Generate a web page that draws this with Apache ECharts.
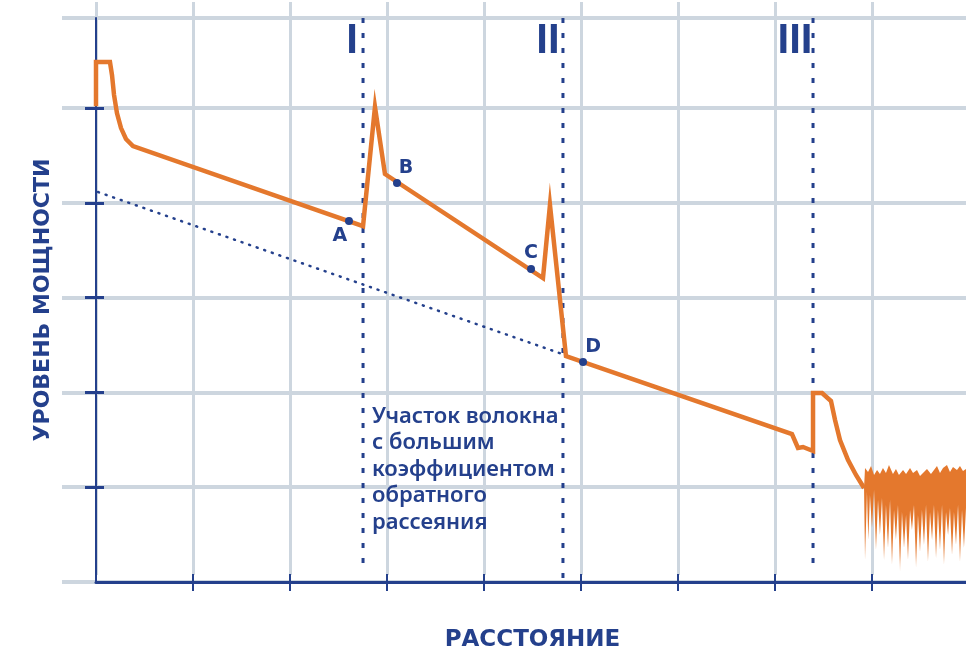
<!DOCTYPE html>
<html><head><meta charset="utf-8">
<script src="https://cdn.jsdelivr.net/npm/echarts@6/dist/echarts.min.js"></script>
<style>html,body{margin:0;padding:0;background:#fff}#c{width:966px;height:650px}</style>
</head><body><div id="c"></div>
<script>
// ---- data (x: distance units, y: power level units) ----
const traceX = [0, 0, 0.144, 0.165, 0.186, 0.216, 0.258, 0.309, 0.381, 2.753, 2.876, 2.979, 4.608, 4.680, 4.845, 7.175, 7.237, 7.289, 7.392, 7.392, 7.485, 7.577, 7.619, 7.670, 7.753, 7.835, 7.918];
const traceY = [5.02, 5.485, 5.485, 5.348, 5.137, 4.947, 4.789, 4.673, 4.599, 3.755, 5.011, 4.304, 3.207, 3.977, 2.384, 1.561, 1.414, 1.424, 1.382, 1.994, 1.994, 1.909, 1.709, 1.498, 1.287, 1.129, 0.992];
const pointNames = ['A', 'B', 'C', 'D'];
const pointX = [2.608, 3.103, 4.485, 5.021];
const pointY = [3.808, 4.209, 3.302, 2.321];
const backscatterX = [0.021, 4.835];
const backscatterY = [4.114, 2.395];
const eventNames = ['I', 'II', 'III'];
const eventX = [2.753, 4.814, 7.392];
const eventTop = 5.95;
const eventBottom = [0.105, 0.04, 0.13];
const eventLabelX = [2.639, 4.660, 7.206];
const eventLabelY = 5.707;
const noteText = ['Участок волокна', 'с большим', 'коэффициентом', 'обратного', 'рассеяния'];
const notePos = [2.845, 1.885];
const noiseTopX = [7.928, 7.959, 7.990, 8.021, 8.052, 8.082, 8.113, 8.144, 8.175, 8.216, 8.247, 8.278, 8.320, 8.351, 8.392, 8.423, 8.464, 8.495, 8.536, 8.567, 8.608, 8.639, 8.670, 8.701, 8.732, 8.773, 8.804, 8.835, 8.876, 8.907, 8.938, 8.969];
const noiseTopY = [1.203, 1.160, 1.224, 1.129, 1.181, 1.139, 1.203, 1.150, 1.234, 1.139, 1.192, 1.129, 1.181, 1.139, 1.203, 1.150, 1.181, 1.118, 1.160, 1.192, 1.139, 1.181, 1.224, 1.150, 1.203, 1.234, 1.160, 1.213, 1.181, 1.224, 1.171, 1.192];
const noiseLowX = [7.918, 7.928, 7.948, 7.962, 7.979, 8.000, 8.021, 8.041, 8.062, 8.082, 8.103, 8.124, 8.144, 8.165, 8.186, 8.206, 8.227, 8.247, 8.268, 8.289, 8.309, 8.330, 8.351, 8.371, 8.392, 8.412, 8.433, 8.454, 8.474, 8.495, 8.515, 8.536, 8.557, 8.577, 8.598, 8.619, 8.639, 8.660, 8.680, 8.701, 8.722, 8.742, 8.763, 8.784, 8.804, 8.825, 8.845, 8.866, 8.887, 8.907, 8.928, 8.948, 8.969];
const noiseLowY = [0.992, 0.232, 0.949, 0.443, 0.918, 0.570, 0.970, 0.338, 0.865, 0.496, 0.886, 0.232, 0.812, 0.359, 0.865, 0.179, 0.759, 0.443, 0.812, 0.105, 0.738, 0.359, 0.707, 0.232, 0.759, 0.549, 0.812, 0.148, 0.707, 0.316, 0.759, 0.390, 0.812, 0.211, 0.738, 0.443, 0.812, 0.253, 0.759, 0.338, 0.812, 0.179, 0.738, 0.496, 0.781, 0.285, 0.738, 0.390, 0.812, 0.211, 0.759, 0.359, 0.781];
const xTicks = [1, 2, 3, 4, 5, 6, 7, 8];
const yTicks = [1, 2, 3, 4, 5];

// ---- styles ----
const BLUE = '#24408c', ORANGE = '#e4782d', GRIDC = '#cdd6df';
const pointLabelOffsets = [[-9, 15], [9, -15], [0, -16], [10, -15]];

const zip = (a, b) => a.map((v, i) => [v, b[i]]);
const trace = zip(traceX, traceY);
const noiseTop = zip(noiseTopX, noiseTopY);
const noiseLow = zip(noiseLowX, noiseLowY);

const series = [];
eventX.forEach((x, i) => {
  series.push({
    type: 'line', xAxisIndex: 0, yAxisIndex: 0, symbol: 'none', silent: true, z: 3,
    data: [[x, eventTop], [x, eventBottom[i]]],
    lineStyle: { color: BLUE, width: 3, type: [5, 10] }
  });
});
series.push({
  type: 'line', xAxisIndex: 0, yAxisIndex: 0, symbol: 'none', z: 3,
  data: zip(backscatterX, backscatterY),
  lineStyle: { color: BLUE, width: 2.5, type: [1, 7], cap: 'round' }
});
series.push({
  type: 'custom', xAxisIndex: 0, yAxisIndex: 0, clip: false, z: 4,
  data: [[8.5, 1]],
  renderItem: function (params, api) {
    const pts = noiseTop.map(p => api.coord(p)).concat(noiseLow.slice().reverse().map(p => api.coord(p)));
    return {
      type: 'polygon', shape: { points: pts },
      style: {
        fill: { type: 'linear', x: 0, y: 0, x2: 0, y2: 1, colorStops: [
          { offset: 0, color: ORANGE }, { offset: 0.62, color: ORANGE },
          { offset: 0.85, color: 'rgba(228,120,45,0.85)' }, { offset: 1, color: 'rgba(228,120,45,0.4)' }] }
      }
    };
  }
});
series.push({
  type: 'line', xAxisIndex: 0, yAxisIndex: 0, symbol: 'none', z: 5,
  data: trace,
  lineStyle: { color: ORANGE, width: 4.5, join: 'miter' }
});
series.push({
  type: 'scatter', xAxisIndex: 0, yAxisIndex: 0, z: 6,
  symbol: 'circle', symbolSize: 8, itemStyle: { color: BLUE, opacity: 1 },
  data: pointNames.map((n, i) => ({
    name: n, value: [pointX[i], pointY[i]],
    label: { show: true, position: 'inside', offset: pointLabelOffsets[i], formatter: n,
      color: BLUE, fontSize: 19, fontWeight: 'bold', fontFamily: 'DejaVu Sans' }
  }))
});
series.push({
  type: 'scatter', xAxisIndex: 0, yAxisIndex: 0, z: 6, symbolSize: 0, silent: true,
  itemStyle: { opacity: 1 },
  data: eventNames.map((n, i) => ({
    name: n, value: [eventLabelX[i], eventLabelY],
    label: { show: true, position: 'inside', formatter: n, color: BLUE, fontSize: 42,
      fontWeight: 'bold', fontFamily: 'Liberation Sans' }
  }))
});
series.push({
  type: 'scatter', xAxisIndex: 0, yAxisIndex: 0, z: 6, symbolSize: 0, silent: true,
  itemStyle: { opacity: 1 },
  data: [{ value: notePos, label: { show: true, position: [0, 0], align: 'left', verticalAlign: 'top',
    formatter: noteText.join('\n'), color: BLUE, fontSize: 22, lineHeight: 26.5, fontWeight: 600,
    fontFamily: 'Noto Sans' } }]
});

const hidden = { axisLine: { show: false }, axisTick: { show: false }, axisLabel: { show: false }, splitLine: { show: false } };

const option = {
  animation: false,
  backgroundColor: '#fff',
  grid: [
    { left: 96, top: 18, width: 873, height: 564, outerBoundsMode: 'none', containLabel: false },
    { left: 62, top: 18, width: 907, height: 564, outerBoundsMode: 'none', containLabel: false },
    { left: 96, top: 2, width: 873, height: 573, outerBoundsMode: 'none', containLabel: false }
  ],
  xAxis: [
    { type: 'value', gridIndex: 0, min: 0, max: 9, interval: 1, position: 'bottom',
      axisLine: { show: true, onZero: false, lineStyle: { color: BLUE, width: 3 } },
      axisTick: { show: true, customValues: xTicks, length: 9, lineStyle: { color: BLUE, width: 2 } },
      axisLabel: { show: false }, splitLine: { show: false },
      name: 'РАССТОЯНИЕ', nameLocation: 'middle', nameGap: 47,
      nameTextStyle: { color: BLUE, fontSize: 23, fontWeight: 'bold', fontFamily: 'DejaVu Sans' } },
    { type: 'value', gridIndex: 0, min: 0, max: 9, interval: 1, position: 'bottom',
      axisLine: { show: false, onZero: false },
      axisTick: { show: true, inside: true, customValues: xTicks, length: 8, lineStyle: { color: BLUE, width: 2 } },
      axisLabel: { show: false }, splitLine: { show: false } },
    Object.assign({ type: 'value', gridIndex: 1, min: 0, max: 1 }, hidden),
    Object.assign({ type: 'value', gridIndex: 2, min: 0, max: 9, interval: 1 }, hidden,
      { splitLine: { show: true, lineStyle: { color: GRIDC, width: 3 } } })
  ],
  yAxis: [
    { type: 'value', gridIndex: 0, min: 0, max: 5.95, interval: 1, position: 'left',
      axisLine: { show: true, lineStyle: { color: BLUE, width: 2 } },
      axisTick: { show: true, customValues: yTicks, length: 11, lineStyle: { color: BLUE, width: 3 } },
      axisLabel: { show: false }, splitLine: { show: false },
      name: 'УРОВЕНЬ МОЩНОСТИ', nameLocation: 'middle', nameGap: 42, nameRotate: 90,
      nameTextStyle: { color: BLUE, fontSize: 22, fontWeight: 'bold', fontFamily: 'DejaVu Sans' } },
    { type: 'value', gridIndex: 0, min: 0, max: 5.95, interval: 1, position: 'left',
      axisLine: { show: false },
      axisTick: { show: true, inside: true, customValues: yTicks, length: 8, lineStyle: { color: BLUE, width: 3 } },
      axisLabel: { show: false }, splitLine: { show: false } },
    Object.assign({ type: 'value', gridIndex: 1, min: 0, max: 5.95, interval: 1 }, hidden,
      { splitLine: { show: true, lineStyle: { color: GRIDC, width: 4 } } }),
    Object.assign({ type: 'value', gridIndex: 2, min: 0, max: 1 }, hidden)
  ],
  series: series
};
const chart = echarts.init(document.getElementById('c'), null, { renderer: 'canvas' });
chart.setOption(option);
</script></body></html>
